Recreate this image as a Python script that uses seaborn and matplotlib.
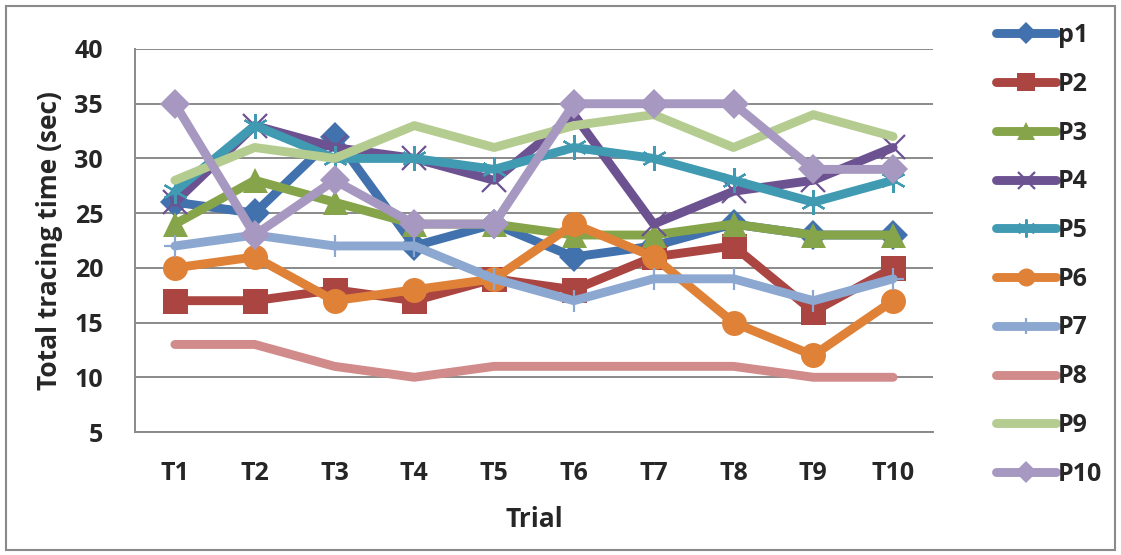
import matplotlib
matplotlib.use("Agg")
import matplotlib.pyplot as plt
import matplotlib.patches as mpatches
from matplotlib.ticker import FixedLocator, NullFormatter
import seaborn as sns
import pandas as pd

trials = ["T1", "T2", "T3", "T4", "T5", "T6", "T7", "T8", "T9", "T10"]
participants = ["p1", "P2", "P3", "P4", "P5", "P6", "P7", "P8", "P9", "P10"]

p1 = [26, 25, 32, 22, 24, 21, 22, 24, 23, 23]
p2 = [17, 17, 18, 17, 19, 18, 21, 22, 16, 20]
p3 = [24, 28, 26, 24, 24, 23, 23, 24, 23, 23]
p4 = [26, 33, 31, 30, 28, 34, 24, 27, 28, 31]
p5 = [27, 33, 30, 30, 29, 31, 30, 28, 26, 28]
p6 = [20, 21, 17, 18, 19, 24, 21, 15, 12, 17]
p7 = [22, 23, 22, 22, 19, 17, 19, 19, 17, 19]
p8 = [13, 13, 11, 10, 11, 11, 11, 11, 10, 10]
p9 = [28, 31, 30, 33, 31, 33, 34, 31, 34, 32]
p10 = [35, 23, 28, 24, 24, 35, 35, 35, 29, 29]

series = [p1, p2, p3, p4, p5, p6, p7, p8, p9, p10]

colors = ["#4272ad", "#aa4542", "#86a44a", "#6d5292", "#409ab2",
          "#df8238", "#8ca8d1", "#d08b8a", "#b4cc90", "#a698c0"]
markers = ["D", "s", "^", "x", (6, 2, 0), "o", "+", "", "", "D"]
msizes = [15, 18, 18, 17, 18, 18, 16, 0, 0, 15]

df = pd.DataFrame({
    "Trial": [t for _ in participants for t in trials],
    "time": [v for s in series for v in s],
    "who": [p for p in participants for _ in trials],
})

sns.set_style("white")
plt.rcParams["font.family"] = ["Open Sans", "DejaVu Sans"]
plt.rcParams["font.weight"] = "bold"

FS = 18

fig = plt.figure(figsize=(11.21, 5.55), dpi=100)
ax = fig.add_axes([135 / 1121, 1 - 432 / 555, 798 / 1121, 383 / 555])

for name, col, mk, ms in zip(participants, colors, markers, msizes):
    sub = df[df["who"] == name]
    thin = mk in ("x", "+", (6, 2, 0))
    sns.lineplot(data=sub, x="Trial", y="time", ax=ax, color=col,
                 linewidth=6.4, marker=mk if mk else None, markersize=ms,
                 markeredgewidth=1.6 if thin else 0,
                 markeredgecolor=col, markerfacecolor=col,
                 solid_capstyle="round", solid_joinstyle="round",
                 label=name, legend=False, sort=False)

ax.set_ylim(5, 40)
ax.set_xlim(-0.5, len(trials) - 0.5)
ax.set_yticks(range(5, 41, 5))
ax.set_xticks(range(len(trials)))
ax.set_xticklabels(trials)
ax.xaxis.set_minor_locator(FixedLocator([i - 0.5 for i in range(len(trials) + 1)]))
ax.xaxis.set_minor_formatter(NullFormatter())
ax.tick_params(axis="x", which="major", length=0, pad=21, labelsize=FS)
ax.tick_params(axis="x", which="minor", length=7, width=1.3, color="#8a8a8a",
               direction="out")
ax.tick_params(axis="y", length=7, width=1.3, color="#8a8a8a", direction="out",
               pad=16, labelsize=FS)
for lbl in ax.get_xticklabels() + ax.get_yticklabels():
    lbl.set_fontweight("bold")

ax.grid(axis="y", color="#8a8a8a", linewidth=1.4)
ax.set_axisbelow(True)
for side in ("top", "right"):
    ax.spines[side].set_visible(False)
for side in ("left", "bottom"):
    ax.spines[side].set_color("#8a8a8a")
    ax.spines[side].set_linewidth(1.4)

ax.set_xlabel("Trial", fontsize=19, fontweight="bold", labelpad=14)
ax.set_ylabel("Total tracing time (sec)", fontsize=19, fontweight="bold", labelpad=8)

handles, labels = ax.get_legend_handles_labels()
fig.legend(handles, labels, loc="upper left", bbox_to_anchor=(996 / 1121, 1 - 23 / 555),
           frameon=False, handlelength=2.4, handletextpad=0.08, markerscale=0.72,
           labelspacing=0.95, borderpad=0, borderaxespad=0,
           prop={"weight": "bold", "size": FS})

fig.patches.append(mpatches.Rectangle((6 / 1121, 5 / 555), 1 - 12 / 1121, 1 - 11 / 555,
                                      transform=fig.transFigure, fill=False,
                                      edgecolor="#8a8a8a", linewidth=1.5))

fig.savefig("out.png", dpi=100)
